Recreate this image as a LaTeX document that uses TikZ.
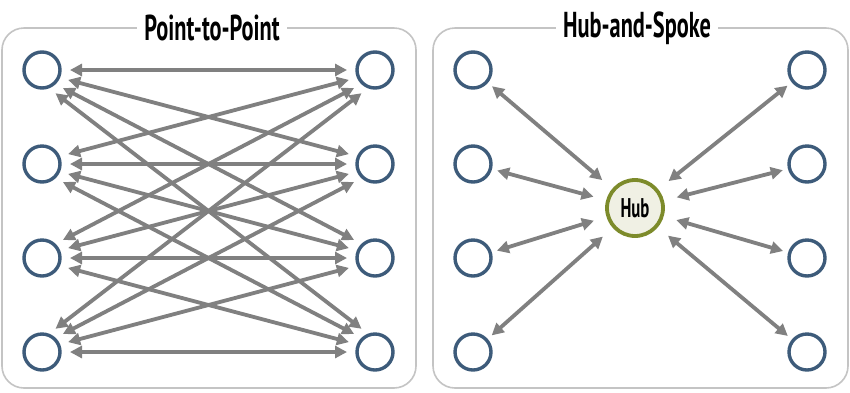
\documentclass[tikz,border=0pt]{standalone}
\usepackage{fontspec}
\usetikzlibrary{arrows.meta}
\newfontfamily\condfont[FakeStretch=0.62]{PT Sans}
\definecolor{nodeblue}{HTML}{3D5B7A}
\definecolor{arrowgray}{HTML}{808080}
\definecolor{framegray}{HTML}{C4C4C4}
\definecolor{hubolive}{HTML}{7D8B2B}
\definecolor{hubfill}{HTML}{F0F0E4}
\tikzset{
  endpt/.style={circle,draw=nodeblue,line width=3.4pt,minimum size=36pt,inner sep=0pt,outer sep=0pt},
  hubnode/.style={circle,draw=hubolive,fill=hubfill,line width=3.8pt,minimum size=56pt,inner sep=0pt,outer sep=0pt,font=\condfont\bfseries\fontsize{27}{27}\selectfont},
  link/.style={draw=arrowgray,line width=3.8pt,{Triangle[length=12pt,width=12pt]}-{Triangle[length=12pt,width=12pt]},shorten <=10pt,shorten >=10pt},
  spoke/.style={draw=arrowgray,line width=3.8pt,{Triangle[length=12pt,width=12pt]}-{Triangle[length=12pt,width=12pt]},shorten <=7pt,shorten >=15pt},
  panel/.style={draw=framegray,line width=1.6pt,rounded corners=22pt},
  paneltitle/.style={fill=white,inner xsep=7pt,inner ysep=2pt,font=\condfont\bfseries\fontsize{36}{36}\selectfont}
}
\begin{document}
\begin{tikzpicture}[x=1pt,y=-1pt]
\useasboundingbox (0,0) rectangle (850,392);
\fill[white] (0,0) rectangle (850,392);
% panels
\draw[panel] (2,28) rectangle (416,388);
\draw[panel] (433,28) rectangle (848,388);
\node[paneltitle] (t1) at (212,28) {Point-to-Point};
\node[paneltitle] (t2) at (637,28) {Hub-and-Spoke};
% left panel nodes
\foreach \i/\y in {1/70,2/164,3/258,4/352}{
  \node[endpt] (L\i) at (42,\y) {};
  \node[endpt] (R\i) at (375,\y) {};
}
\foreach \i in {1,...,4}{
  \foreach \j in {1,...,4}{
    \pgfmathsetmacro{\la}{-24*(\j-\i)}
    \pgfmathsetmacro{\ra}{180-24*(\j-\i)}
    \draw[link] (L\i.\la) -- (R\j.\ra);
  }
}
% right panel
\node[hubnode] (hub) at (635,208) {Hub};
\foreach \i/\y in {1/70,2/164,3/258,4/352}{
  \node[endpt] (A\i) at (473,\y) {};
  \node[endpt] (B\i) at (807,\y) {};
  \draw[spoke] (A\i) -- (hub);
  \draw[spoke] (B\i) -- (hub);
}
\end{tikzpicture}
\end{document}
